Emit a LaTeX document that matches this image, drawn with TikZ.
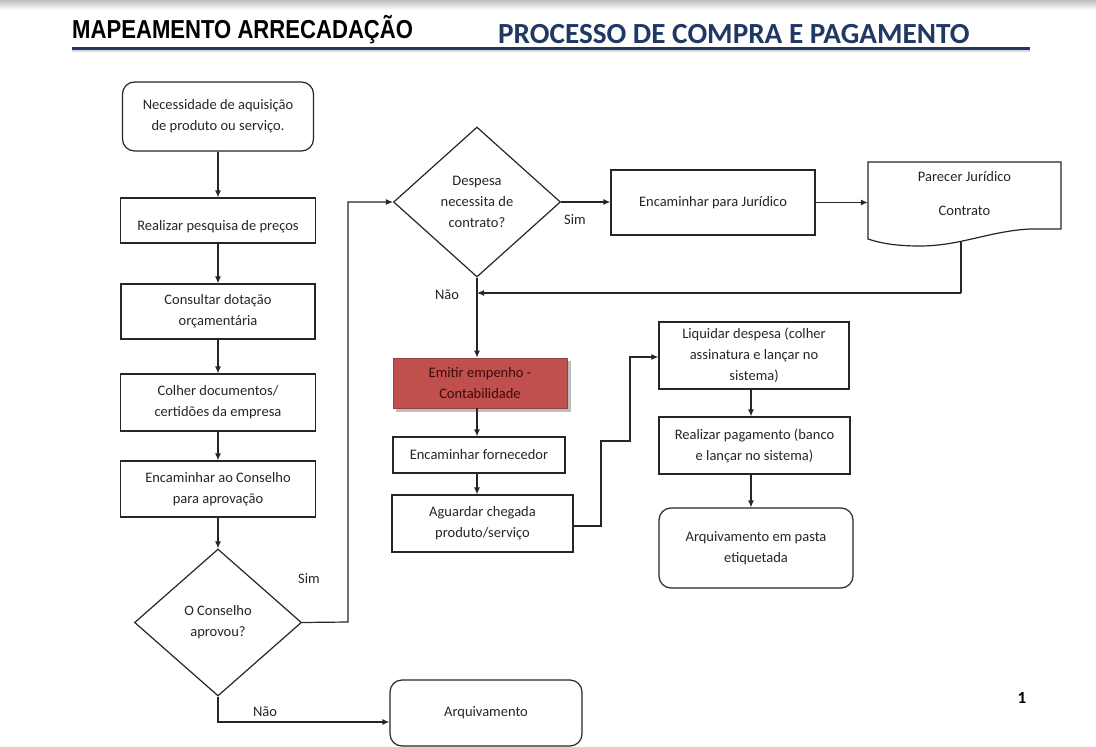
\documentclass[tikz,border=0pt]{standalone}
\usepackage{fontspec}
\setmainfont{Carlito}
\newfontfamily\hdrfont{Liberation Sans}
\usetikzlibrary{shapes.geometric,arrows.meta,calc}
\definecolor{navy}{HTML}{1F3864}
\definecolor{redbox}{HTML}{C0504D}
\definecolor{redtxt}{HTML}{3A0A0A}
\definecolor{txt}{HTML}{262626}
\begin{document}
\begin{tikzpicture}[x=1pt,y=-1pt,
  bfont/.style={font=\fontsize{14.5}{21}\selectfont},
  box/.style={draw=black!85,line width=1.2pt,fill=white,align=center,text=txt,bfont,inner sep=0pt},
  rbox/.style={box,rounded corners=12pt},
  dia/.style={diamond,draw=black!85,line width=1.2pt,fill=white,align=center,text=txt,bfont,inner sep=0pt},
  arr/.style={-{Latex[length=7pt,width=6pt]},line width=1.2pt,draw=black!85},
  ln/.style={line width=1.2pt,draw=black!85},
  lbl/.style={text=txt,bfont,inner sep=0pt}]
\useasboundingbox (0,0) rectangle (1096,747);
\fill[white] (0,0) rectangle (1096,747);
\shade[top color=black!25,bottom color=white] (0,0) rectangle (1096,10);

% header
\node[anchor=west,inner sep=0pt] (h1) at (72,30) {\scalebox{0.85}[1]{\hdrfont\bfseries\fontsize{26}{26}\selectfont MAPEAMENTO ARRECADAÇÃO}};
\node[anchor=west,inner sep=0pt,text=navy] (h2) at (498,34) {\bfseries\fontsize{29.2}{29.2}\selectfont PROCESSO DE COMPRA E PAGAMENTO};
\fill[black!15] (72,49) rectangle (1030,52);
\fill[navy] (72,46.5) rectangle (1030,49.5);

% left column
\node[rbox,minimum width=191,minimum height=69] (n1) at (218,116.5) {Necessidade de aquisição\\de produto ou serviço.};
\node[box,minimum width=195,minimum height=45] (n2) at (218,220.5) {\rule{0pt}{22pt}Realizar pesquisa de preços};
\node[box,minimum width=194,minimum height=55] (n3) at (218,311.5) {Consultar dotação\\orçamentária};
\node[box,minimum width=195,minimum height=57] (n4) at (218,402.5) {Colher documentos/\\certidões da empresa};
\node[box,minimum width=195,minimum height=56] (n5) at (218,489) {Encaminhar ao Conselho\\para aprovação};
\node[dia,minimum width=167,minimum height=147] (d1) at (218,622.5) {O Conselho\\aprovou?};
\node[rbox,minimum width=192,minimum height=66] (arq) at (486,713) {Arquivamento};

% middle
\node[dia,minimum width=167,minimum height=150] (d2) at (477,202) {Despesa\\necessita de\\contrato?};
\node[box,minimum width=204,minimum height=65] (jur) at (713,202.5) {Encaminhar para Jurídico};
\node[inner sep=0pt,minimum width=193,minimum height=77] (doc) at (964.5,200.5) {};
\draw[line width=1.2pt,draw=black!85,fill=white] (868,162) -- (1061,162) -- (1061,229) -- (1030,229)
  .. controls (990,231) and (960,246) .. (920,246) .. controls (895,246) and (880,243) .. (868,239) -- cycle;
\node[lbl] (doct1) at (964.5,177) {Parecer Jurídico};
\node[lbl] (doct2) at (964.5,211) {Contrato};
\coordinate (docb) at (961,242);
\coordinate (join) at (961,293);

\fill[black!25] (396,361) rectangle (571,412);
\node[draw=redbox!80!black,line width=0.6pt,fill=redbox,align=center,text=redtxt,bfont,inner sep=0pt,minimum width=174,minimum height=50] (red) at (480,383) {Emitir empenho -\\Contabilidade};
\node[box,minimum width=172,minimum height=36] (forn) at (479,455) {Encaminhar fornecedor};
\node[box,minimum width=181,minimum height=57] (agu) at (482.5,523.5) {Aguardar chegada\\produto/serviço};

% right column
\node[box,minimum width=190,minimum height=67] (liq) at (754,355.5) {Liquidar despesa (colher\\assinatura e lançar no\\sistema)};
\node[box,minimum width=191,minimum height=57] (pag) at (754.5,445.5) {Realizar pagamento (banco\\e lançar no sistema)};
\node[rbox,minimum width=194,minimum height=80] (arq2) at (756,548) {Arquivamento em pasta\\etiquetada};

% connectors
\draw[arr] (n1) -- (n2);
\draw[arr] (n2) -- (n3);
\draw[arr] (n3) -- (n4);
\draw[arr] (n4) -- (n5);
\draw[arr] (n5) -- (d1);
\draw[arr] (d1.east) -- (348,622) -- (348,202) -- (d2.west);
\draw[arr] (d1.south) -- (218,722) -- (arq.west |- 0,722);
\draw[arr] (d2.east) -- (jur.west |- d2.east);
\draw[arr] (jur.east) -- (doc.west |- jur.east);
\draw[ln] (docb) -- (join);
\draw[arr] (join) -- (d2.south |- join);
\draw[arr] (d2.south) -- (d2.south |- red.north);
\draw[arr] (red.south -| d2.south) -- (d2.south |- forn.north);
\draw[arr] (forn.south -| d2.south) -- (d2.south |- agu.north);
\draw[arr] (agu.east |- 0,526) -- (601,526) -- (601,441) -- (630,441) -- (630,357) -- (liq.west |- 0,357);
\draw[arr] (liq.south -| 751,0) -- (pag.north -| 751,0);
\draw[arr] (pag.south -| 751,0) -- (arq2.north -| 751,0);

% labels
\node[lbl] (s1) at (309,579) {Sim};
\node[lbl] (n1l) at (265,712) {Não};
\node[lbl] (s2) at (575,220) {Sim};
\node[lbl] (n2l) at (447,295) {Não};
\node[font=\bfseries\fontsize{17}{17}\selectfont,inner sep=0pt] (pg) at (1022,698) {1};
\end{tikzpicture}
\end{document}
